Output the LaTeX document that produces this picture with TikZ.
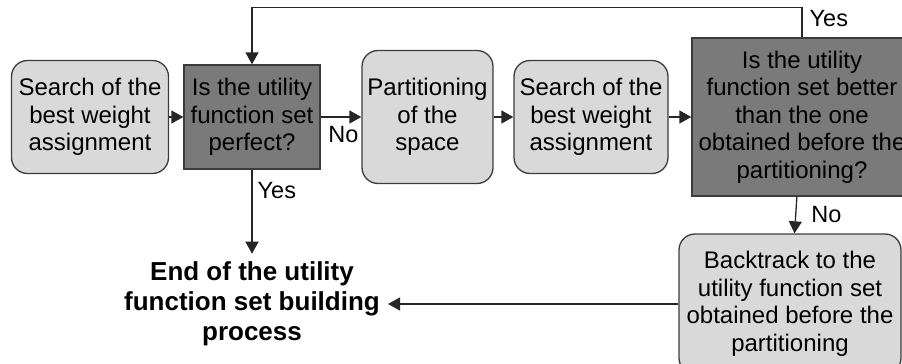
\documentclass[tikz,border=0pt]{standalone}
\usepackage{fontspec}
\setmainfont{Liberation Sans}
\usepackage{tikz}
\usetikzlibrary{positioning, arrows.meta}

\definecolor{softgray}{RGB}{217,217,217}
\definecolor{hardgray}{RGB}{122,122,122}
\definecolor{edgegray}{RGB}{60,60,60}

\tikzset{
  soft/.style={draw=edgegray, fill=softgray, line width=1.3pt, rounded corners=16pt, align=center, inner sep=2pt, font=\fontsize{24}{27.5}\selectfont},
  hard/.style={draw=edgegray, fill=hardgray, line width=1.3pt, align=center, inner sep=2pt, font=\fontsize{24}{27.5}\selectfont},
  flow/.style={-{Triangle[length=12pt,width=13pt]}, draw=black!85, line width=1.3pt},
  tag/.style={font=\fontsize{23.5}{27}\selectfont, inner sep=3pt},
}

\begin{document}
\begin{tikzpicture}[x=1pt,y=-1pt,on grid]
       \useasboundingbox (0,0) rectangle (902,364);
       \node[soft,minimum width=157pt,minimum height=113pt] (search1) at (90,117) {Search of the\\best weight\\assignment};
       \node[hard,minimum width=136pt,minimum height=104pt] (perfect) [right=162pt of search1] {Is the utility\\function set\\perfect?};
       \node[soft,minimum width=131pt,minimum height=133pt] (split) [right=175.5pt of perfect] {Partitioning\\of the\\space};
       \node[soft,minimum width=154pt,minimum height=113pt] (search2) [right=163.5pt of split] {Search of the\\best weight\\assignment};
       \node[hard,minimum width=220pt,minimum height=158pt] (better) [right=211pt of search2] {Is the utility\\function set better\\than the one\\obtained before the\\partitioning?};
       \node[soft,minimum width=222pt,minimum height=140pt] (back) [below=187pt of better, xshift=-12pt] {Backtrack to the\\utility function set\\obtained before the\\partitioning};
       \node[align=center, inner sep=8pt, font=\fontsize{26}{30}\selectfont\bfseries] (end) [below=187pt of perfect] {End of the utility\\function set building\\process};

       \draw[flow] (search1) -- (perfect);
       \draw[flow] (perfect) -- node[tag, pos=0, anchor=north west, xshift=4pt, yshift=-6pt] {No} (split);
       \draw[flow] (split) -- (search2);
       \draw[flow] (search2) -- (better);
       \draw[flow] (better.north) -- node[tag, midway, right, xshift=4pt, yshift=4pt] {Yes} ++(0,-30) -| (perfect.north);
       \draw[flow] (perfect) -- node[tag, pos=0, anchor=north west, xshift=2pt, yshift=-9pt] {Yes} (end);
       \draw[flow] (better) -- node[tag, midway, right, xshift=12pt] {No} (back);
       \draw[flow] (back) -- (end);
    \end{tikzpicture}
\end{document}
